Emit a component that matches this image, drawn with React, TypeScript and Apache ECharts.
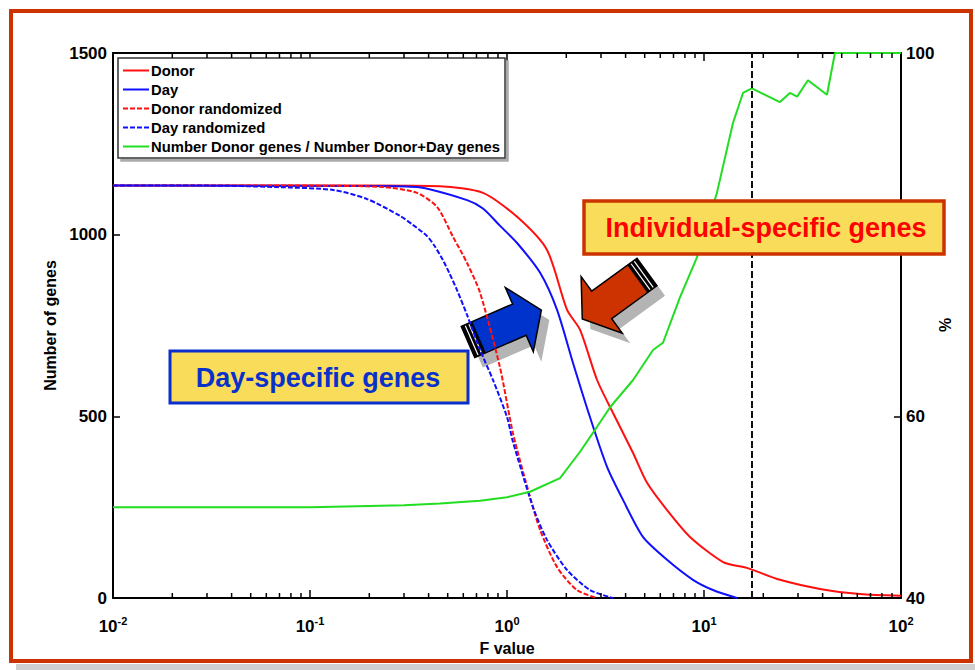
import React, { useEffect, useRef } from 'react';
import * as echarts from 'echarts';

const FONT = '"Liberation Sans", Arial, sans-serif';

// F value vs number of genes
const donorCurve: number[][] = [[0.01,1135],[0.2,1135],[0.457,1133],[0.755,1115],[1.125,1049],[1.596,958],[2.018,793],[2.349,738],[2.866,600],[3.454,509],[4.365,399],[5.14,317],[6.49,242],[8.49,168],[12.5,99],[16.5,83],[24.3,50],[38.8,25],[61.9,11],[100,6]];
const dayCurve: number[][] = [[0.01,1135],[0.2,1134],[0.349,1131],[0.627,1095],[0.755,1072],[0.92,1025],[1.125,977],[1.473,895],[1.795,793],[2.163,647],[2.637,498],[3.22,361],[3.88,270],[4.9,168],[6.49,105],[8.79,50],[11.1,22],[14.7,0]];
const donorRandCurve: number[][] = [[0.01,1135],[0.1,1135],[0.235,1131],[0.349,1115],[0.442,1076],[0.532,994],[0.627,922],[0.73,840],[0.92,636],[1.072,454],[1.309,278],[1.473,187],[1.795,85],[2.264,22],[2.866,0]];
const dayRandCurve: number[][] = [[0.01,1135],[0.03,1135],[0.068,1131],[0.131,1123],[0.195,1098],[0.286,1052],[0.333,1027],[0.393,996],[0.43,968],[0.473,930],[0.51,894],[0.557,848],[0.627,779],[0.73,683],[0.849,600],[1.0,498],[1.072,430],[1.355,250],[1.596,160],[2.018,77],[2.637,22],[3.45,0]];
// percentage Donor / (Donor + Day)
const ratioCurve: number[][] = [[0.01,50.0],[0.1,50.0],[0.3,50.2],[0.457,50.4],[0.73,50.7],[1.0,51.1],[1.309,51.7],[1.859,53.2],[2.349,56.1],[2.735,58.2],[3.336,61.0],[4.365,64.0],[5.51,67.3],[6.19,68.1],[7.55,73.1],[9.21,77.5],[11.63,84.6],[14.03,92.3],[15.77,95.6],[17.5,96.1],[24.3,94.6],[27.3,95.6],[29.7,95.2],[33.7,97.0],[42.1,95.4],[46.2,100],[100,100]];

const thresholdF = 17.5;
const minorTickValues: number[] = [];
[0.01, 0.1, 1, 10].forEach((d) => { for (let k = 2; k <= 9; k++) minorTickValues.push(+(d * k).toPrecision(3)); });

const seriesNames = ['Donor', 'Day', 'Donor randomized', 'Day randomized', 'Number Donor genes / Number Donor+Day genes'];

function arrow(cx: number, cy: number, rot: number, fill: string) {
  const sh = 17, sl = 56, hw = 35, tip = 80;
  const pts = [[0,-sh],[sl,-sh],[sl,-hw],[tip,0],[sl,hw],[sl,sh],[0,sh]];
  return [
    { type: 'group', x: cx + 8, y: cy + 10, rotation: rot, z: 90, children: [
      { type: 'polygon', shape: { points: pts }, style: { fill: '#b4b4b4' } },
    ]},
    { type: 'group', x: cx, y: cy, rotation: rot, z: 91, children: [
      { type: 'polygon', shape: { points: pts }, style: { fill, stroke: '#000', lineWidth: 1.5 } },
      { type: 'rect', shape: { x: 0, y: -sh, width: 12, height: 2 * sh }, style: { fill: '#000' } },
      { type: 'line', shape: { x1: 4, y1: -sh + 1, x2: 4, y2: sh - 1 }, style: { stroke: '#fff', lineWidth: 1.2 } },
      { type: 'line', shape: { x1: 8, y1: -sh + 1, x2: 8, y2: sh - 1 }, style: { stroke: '#fff', lineWidth: 1.2 } },
    ]},
  ];
}

export default function App() {
  const ref = useRef<HTMLDivElement>(null);
  useEffect(() => {
    if (!ref.current) return;
    const chart = echarts.init(ref.current, null, { renderer: 'svg' });
    const axisLbl = { fontFamily: FONT, fontWeight: 'bold', fontSize: 17, color: '#000' };
    const xAxisBase = {
      type: 'log', logBase: 10, min: 0.01, max: 100, splitNumber: 4,
      axisLine: { show: true, lineStyle: { color: '#000', width: 2 } },
      axisTick: { show: true, inside: true, length: 8, lineStyle: { color: '#000', width: 1.5 } },
      splitLine: { show: false },
    };
    const smoothOpts = { smooth: 0.25 };
    const option: any = {
      animation: false,
      backgroundColor: '#fff',
      grid: { left: 113, right: 74, top: 53, bottom: 72, containLabel: false },
      legend: {
        data: seriesNames,
        orient: 'vertical', left: 118, top: 58,
        padding: [5, 5, 4, 4], itemGap: 4, itemWidth: 26, itemHeight: 15,
        backgroundColor: '#fff', borderColor: '#333', borderWidth: 1.5,
        shadowColor: '#aaa', shadowOffsetX: 3, shadowOffsetY: 3, shadowBlur: 0,
        itemStyle: { opacity: 0 },
        textStyle: { fontFamily: FONT, fontWeight: 'bold', fontSize: 14.8, color: '#000', padding: [0, 0, 0, -3] },
      },
      xAxis: [
        { ...xAxisBase, position: 'bottom',
          name: 'F value', nameLocation: 'middle', nameGap: 42,
          nameTextStyle: { fontFamily: FONT, fontWeight: 'bold', fontSize: 16, color: '#000' },
          axisLabel: {
            margin: 17,
            formatter: (v: number) => `{b|10}{s|${Math.round(Math.log10(v))}}`,
            rich: {
              b: { fontFamily: FONT, fontWeight: 'bold', fontSize: 17, lineHeight: 22, color: '#000' },
              s: { fontFamily: FONT, fontWeight: 'bold', fontSize: 11, lineHeight: 12, verticalAlign: 'top', color: '#000' },
            },
          },
        },
        { ...xAxisBase, position: 'top', axisLabel: { show: false } },
      ],
      yAxis: [
        { type: 'value', min: 0, max: 1500, interval: 500, position: 'left',
          name: 'Number of genes', nameLocation: 'middle', nameGap: 52,
          nameTextStyle: { fontFamily: FONT, fontWeight: 'bold', fontSize: 16, color: '#000' },
          axisLine: { show: true, lineStyle: { color: '#000', width: 2 } },
          axisTick: { show: true, inside: true, length: 7, lineStyle: { color: '#000', width: 1.5 } },
          axisLabel: { ...axisLbl, margin: 6, formatter: (v: number) => String(v) },
          splitLine: { show: false } },
        { type: 'value', min: 40, max: 100, interval: 20, position: 'right',
          axisLine: { show: true, lineStyle: { color: '#000', width: 2 } },
          axisTick: { show: true, inside: true, length: 7, lineStyle: { color: '#000', width: 1.5 } },
          // the 80 label is hidden behind the annotation box in the reference
          axisLabel: { ...axisLbl, margin: 5, formatter: (v: number) => (v === 80 ? '' : String(v)) },
          splitLine: { show: false } },
      ],
      series: [
        { name: 'Donor', type: 'line', data: donorCurve, showSymbol: false, symbol: 'none', ...smoothOpts,
          lineStyle: { color: '#ff1010', width: 2 }, itemStyle: { color: '#ff1010' },
          markLine: { silent: true, symbol: 'none', label: { show: false },
            lineStyle: { color: '#111', type: [7, 3], width: 2 }, data: [{ xAxis: thresholdF }] } },
        { name: 'Day', type: 'line', data: dayCurve, showSymbol: false, symbol: 'none', ...smoothOpts,
          lineStyle: { color: '#1010ff', width: 2 }, itemStyle: { color: '#1010ff' } },
        { name: 'Donor randomized', type: 'line', data: donorRandCurve, showSymbol: false, symbol: 'none', ...smoothOpts,
          lineStyle: { color: '#ff1010', width: 2, type: [5, 2] }, itemStyle: { color: '#ff1010' } },
        { name: 'Day randomized', type: 'line', data: dayRandCurve, showSymbol: false, symbol: 'none', ...smoothOpts,
          lineStyle: { color: '#1010ff', width: 2, type: [5, 2] }, itemStyle: { color: '#1010ff' } },
        { name: seriesNames[4], type: 'line', yAxisIndex: 1, data: ratioCurve, showSymbol: false, symbol: 'none',
          lineStyle: { color: '#22dd22', width: 2 }, itemStyle: { color: '#22dd22' } },
        { name: 'minorTicks', type: 'custom', silent: true, data: minorTickValues.map((v) => [v, 0]),
          encode: { x: 0, y: 1 }, z: 5,
          renderItem: (params: any, api: any) => {
            const x = api.coord([api.value(0), 0])[0];
            const cs = params.coordSys;
            const st = { stroke: '#000', lineWidth: 1.5 };
            return { type: 'group', children: [
              { type: 'line', shape: { x1: x, y1: cs.y + cs.height, x2: x, y2: cs.y + cs.height - 5 }, style: st },
              { type: 'line', shape: { x1: x, y1: cs.y, x2: x, y2: cs.y + 5 }, style: st },
            ]};
          } },
      ],
      graphic: [
        { type: 'rect', z: 100, shape: { x: 11, y: 11, width: 960, height: 650 }, style: { fill: 'none', stroke: '#CC3300', lineWidth: 4 } },
        { type: 'rect', z: 99, shape: { x: 16, y: 664, width: 959, height: 6 }, style: { fill: '#cfcfcf' } },
        { type: 'text', z: 50, x: 945, y: 325, rotation: Math.PI / 2, style: { text: '%', fontFamily: FONT, fontWeight: 'bold', fontSize: 16,
          fill: '#000', align: 'center', verticalAlign: 'middle' } },
        ...arrow(468, 342, 0.41, '#0033CC'),
        ...arrow(647, 272, 3.77, '#CC3300'),
        { type: 'rect', z: 100, shape: { x: 170, y: 351, width: 298, height: 52 }, style: { fill: '#F9DC5A', stroke: '#0a2fcc', lineWidth: 3 } },
        { type: 'text', z: 101, x: 318, y: 378, style: { text: 'Day-specific genes', fontFamily: FONT, fontWeight: 'bold', fontSize: 27,
          fill: '#0a30cc', align: 'center', verticalAlign: 'middle', textShadowColor: 'rgba(0,0,50,0.55)', textShadowOffsetX: 1.5, textShadowOffsetY: 1.5 } },
        { type: 'rect', z: 100, shape: { x: 584, y: 201, width: 360, height: 53 }, style: { fill: '#F9DC5A', stroke: '#CC3300', lineWidth: 3.5 } },
        { type: 'text', z: 101, x: 766, y: 228, style: { text: 'Individual-specific genes', fontFamily: FONT, fontWeight: 'bold', fontSize: 27,
          fill: '#ff0000', align: 'center', verticalAlign: 'middle', textShadowColor: 'rgba(60,0,0,0.6)', textShadowOffsetX: 1.5, textShadowOffsetY: 1.5 } },
      ],
    };
    chart.setOption(option);
    return () => chart.dispose();
  }, []);
  return <div ref={ref} style={{ position: 'fixed', left: 0, top: 0, width: 975, height: 670, background: '#fff' }} />;
}
